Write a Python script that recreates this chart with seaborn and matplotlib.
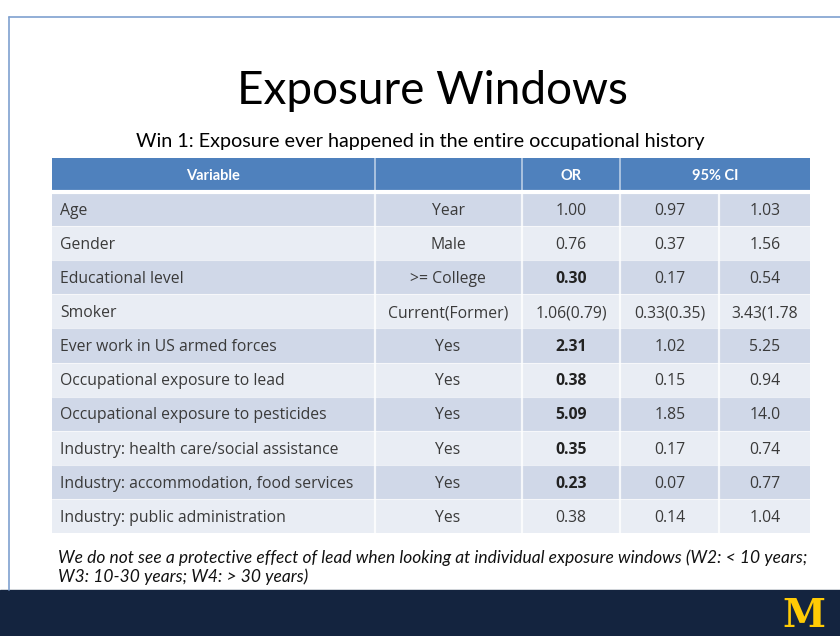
import matplotlib
matplotlib.use("Agg")
import matplotlib.pyplot as plt
import seaborn as sns
import pandas as pd
from matplotlib.patches import Rectangle
from matplotlib.lines import Line2D

# ---------------- data ----------------
variables = ["Age", "Gender", "Educational level", "Smoker",
             "Ever work in US armed forces", "Occupational exposure to lead",
             "Occupational exposure to pesticides",
             "Industry: health care/social assistance",
             "Industry: accommodation, food services",
             "Industry: public administration"]
levels = ["Year", "Male", ">= College", "Current(Former)", "Yes", "Yes",
          "Yes", "Yes", "Yes", "Yes"]
odds_ratio = ["1.00", "0.76", "0.30", "1.06(0.79)", "2.31", "0.38", "5.09",
              "0.35", "0.23", "0.38"]
ci_low = ["0.97", "0.37", "0.17", "0.33(0.35)", "1.02", "0.15", "1.85",
          "0.17", "0.07", "0.14"]
ci_high = ["1.03", "1.56", "0.54", "3.43(1.78", "5.25", "0.94", "14.0",
           "0.74", "0.77", "1.04"]
significant = [False, False, True, False, True, True, True, True, True, False]
header = ["Variable", "", "OR", "95% CI"]

title = "Exposure Windows"
subtitle = "Win 1: Exposure ever happened in the entire occupational history"
footnote = ("We do not see a protective effect of lead when looking at individual exposure windows (W2: < 10 years;\n"
            "W3: 10-30 years; W4: > 30 years)")

# ---------------- style ----------------
sns.set_theme(style="white")
plt.rcParams["font.family"] = ["Lato", "DejaVu Sans"]

W, H = 840, 636
fig = plt.figure(figsize=(W / 100, H / 100), dpi=100)
fig.patch.set_facecolor("white")

def fx(px):
    return px / W

def fy(py):
    return 1 - py / H

# frame lines & bottom band
fig.add_artist(Line2D([fx(9), fx(9)], [fy(17), fy(590)], color="#7FA1CF", lw=1.2))
fig.add_artist(Line2D([fx(9), 1], [fy(17), fy(17)], color="#7FA1CF", lw=1.2))
fig.add_artist(Rectangle((0, 0), 1, fy(590), color="#14243F", transform=fig.transFigure))
fig.text(fx(804), fy(616), "M", color="#FFCB05", fontsize=28, fontweight="bold",
         family="DejaVu Serif", ha="center", va="center")

# titles
fig.text(fx(432), fy(91), title, fontsize=33, ha="center", va="center", color="black")
fig.text(fx(420), fy(141), subtitle, fontsize=14.2, ha="center", va="center", color="black")
fig.text(fx(58), fy(567), footnote, fontsize=12.5, style="italic", ha="left",
         va="center", color="#111111", linespacing=1.2)

# ---------------- table ----------------
left, right, top, bottom = 52, 810, 158, 533
ax = fig.add_axes([fx(left), fy(bottom), fx(right - left), (bottom - top) / H])

n = len(variables)
rows = ["header"] + variables
kind = ["header"] + ["odd" if i % 2 == 0 else "even" for i in range(n)]
df = pd.DataFrame({"row": rows, "width": [right - left] * (n + 1), "kind": kind})
palette = {"header": "#4F81BD", "odd": "#D0D8E8", "even": "#E9EDF4"}
sns.barplot(data=df, y="row", x="width", hue="kind", palette=palette, dodge=False,
            width=1.0, legend=False, ax=ax, orient="h", saturation=1, linewidth=0)
ax.set_xlim(0, right - left)
ax.set_ylim(n + 0.5, -0.5)
ax.axis("off")

# column layout (pixels relative to table left)
col_edges_header = [323, 470, 568]
col_edges_body = [323, 470, 568, 667]
for x in col_edges_header:
    ax.plot([x, x], [-0.5, 0.5], color="#FFFFFF", lw=1.2, alpha=0.6)
for x in col_edges_body:
    ax.plot([x, x], [0.5, n + 0.5], color="#FFFFFF", lw=1.6, alpha=0.8)
ax.plot([0, right - left], [0.5, 0.5], color="white", lw=3)
for i in range(1, n):
    ax.plot([0, right - left], [i + 0.5, i + 0.5], color="white", lw=0.8, alpha=0.6)

# header text
hx = [161, 396, 519, 663]
for x, t in zip(hx, header):
    ax.text(x, 0.16, t, color="white", fontweight="bold", fontsize=10.5,
            ha="center", va="baseline")

txt = "#3A3A3A"
fs = 11.3
bodyfont = ["Open Sans", "DejaVu Sans"]
off = 0.17
for i in range(n):
    y = i + 1 + off
    kw = dict(va="baseline", fontsize=fs, color=txt, family=bodyfont)
    ax.text(8, y, variables[i], ha="left", **kw)
    ax.text(396, y, levels[i], ha="center", **kw)
    ax.text(519, y, odds_ratio[i], ha="center", va="baseline", fontsize=fs,
            color="#222222" if significant[i] else txt, family=bodyfont,
            fontweight="bold" if significant[i] else "normal")
    ax.text(618, y, ci_low[i], ha="center", **kw)
    ax.text(713, y, ci_high[i], ha="center", **kw)

fig.savefig("out.png", dpi=100)
